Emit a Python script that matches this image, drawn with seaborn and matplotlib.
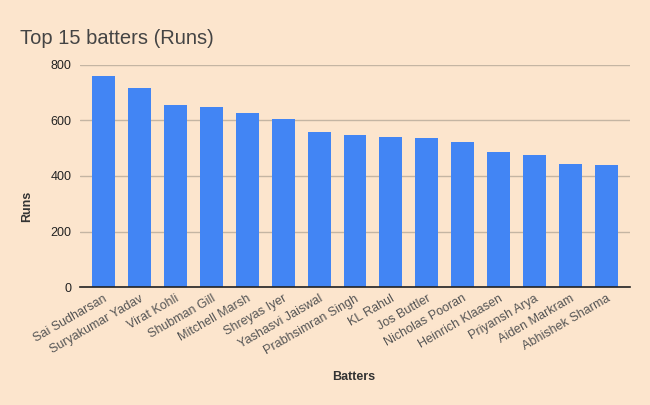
import matplotlib
matplotlib.use("Agg")
import matplotlib.pyplot as plt
import seaborn as sns
import pandas as pd

batters = ["Sai Sudharsan", "Suryakumar Yadav", "Virat Kohli", "Shubman Gill",
           "Mitchell Marsh", "Shreyas Iyer", "Yashasvi Jaiswal", "Prabhsimran Singh",
           "KL Rahul", "Jos Buttler", "Nicholas Pooran", "Heinrich Klaasen",
           "Priyansh Arya", "Aiden Markram", "Abhishek Sharma"]
runs = [759, 717, 657, 650, 627, 604, 559, 549, 539, 538, 524, 487, 475, 445, 439]
yticks = [0, 200, 400, 600, 800]

df = pd.DataFrame({"Batters": batters, "Runs": runs})

bg = "#fce5cd"
sns.set_theme(style="white")
plt.rcParams["font.family"] = ["Liberation Sans", "DejaVu Sans"]

fig = plt.figure(figsize=(6.5, 4.05), dpi=100, facecolor=bg)
ax = fig.add_axes([80 / 650, 1 - 287 / 405, 550 / 650, 222 / 405])
ax.set_facecolor(bg)

sns.barplot(data=df, x="Batters", y="Runs", color="#4285f4", width=0.64,
            saturation=1, linewidth=0, edgecolor="none", ax=ax, zorder=3)

ax.set_xlim(-0.655, 14.655)
ax.set_ylim(0, 800)
ax.set_yticks(yticks)
ax.set_yticklabels([str(v) for v in yticks], fontsize=9, color="#222222")
ax.grid(axis="y", color="#c4b5a3", linewidth=1, zorder=0)
ax.grid(axis="x", visible=False)
for s in ["top", "right", "left"]:
    ax.spines[s].set_visible(False)
ax.spines["bottom"].set_color("#222222")
ax.spines["bottom"].set_linewidth(1.2)
ax.spines["bottom"].set_zorder(4)
ax.tick_params(axis="y", length=0, pad=6)
ax.tick_params(axis="x", length=0, pad=4)
ax.set_xticks(range(len(batters)))
ax.set_xticklabels(batters, rotation=30, ha="right", rotation_mode="anchor",
                   fontsize=9, color="#555555")
ax.set_xlabel("")
ax.set_ylabel("")

fig.text(20 / 650, 1 - 44 / 405, "Top 15 batters (Runs)", fontsize=14.5,
         color="#444444", ha="left", va="baseline")
fig.text(27 / 650, 1 - 206 / 405, "Runs", fontsize=9, fontweight="bold",
         color="#333333", rotation=90, ha="center", va="center")
fig.text(354 / 650, 1 - 377 / 405, "Batters", fontsize=9, fontweight="bold",
         color="#333333", ha="center", va="center")

fig.savefig("out.png", dpi=100, facecolor=bg)
